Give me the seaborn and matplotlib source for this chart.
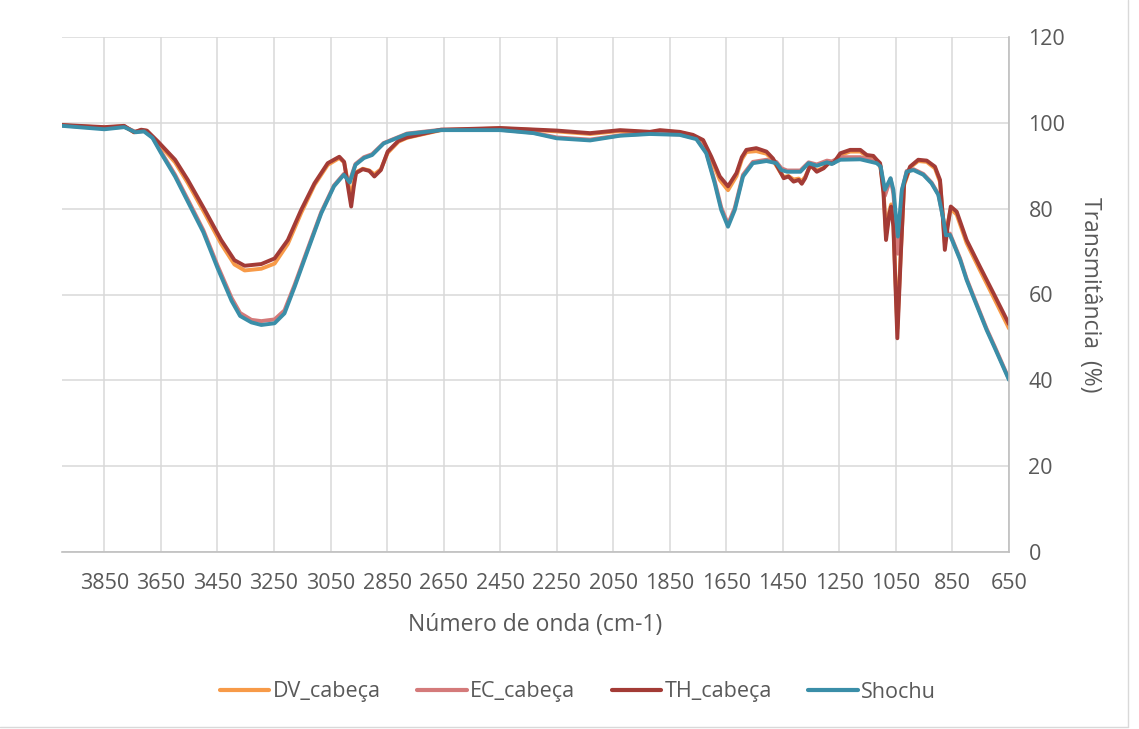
import numpy as np
import pandas as pd
import matplotlib
matplotlib.use("Agg")
import matplotlib.pyplot as plt
import seaborn as sns

# wavenumbers (cm-1) and transmittance (%)
wn_top = [4000, 3850, 3780, 3745, 3720, 3700, 3660, 3600, 3555, 3495, 3437, 3390, 3354, 3295, 3248,
          3201, 3154, 3107, 3060, 3019, 3002, 2988, 2977, 2968, 2960, 2936, 2913, 2895, 2872, 2848,
          2810, 2780, 2720, 2659, 2550, 2450, 2350, 2250, 2132, 2026, 1920, 1885, 1815, 1768, 1732,
          1703, 1673, 1644, 1614, 1595, 1579, 1544, 1508, 1485, 1459, 1447, 1430, 1412, 1394, 1383,
          1371, 1353, 1330, 1306, 1288, 1271, 1247, 1212, 1176, 1153, 1130, 1118, 1106, 1094, 1085,
          1073, 1067, 1059, 1045, 1033, 1021, 1000, 971, 941, 912, 894, 885, 877, 867, 856,
          835, 800, 753, 705, 650]

th_cabeca = [99.5, 99.0, 99.3, 97.8, 98.4, 98.2, 95.6, 91.4, 86.7, 79.7, 72.7, 68.0, 66.7, 67.1, 68.4,
             72.7, 79.7, 85.9, 90.6, 92.1, 90.9, 85.0, 80.5, 85.0, 88.3, 89.2, 88.8, 87.5, 89.0, 93.3,
             95.8, 96.6, 97.5, 98.4, 98.6, 98.8, 98.5, 98.2, 97.6, 98.3, 97.9, 98.3, 97.9, 97.2, 96.0,
             92.1, 87.5, 85.2, 88.3, 92.0, 93.7, 94.1, 93.3, 91.7, 88.6, 87.1, 87.5, 86.3, 86.7, 85.8,
             87.1, 90.2, 88.6, 89.4, 90.6, 90.6, 92.9, 93.7, 93.7, 92.5, 92.3, 91.4, 90.6, 83.6, 72.7,
             78.9, 80.5, 75.8, 49.8, 68.8, 85.9, 89.8, 91.4, 91.2, 89.8, 86.7, 78.9, 70.4, 75.8, 80.5,
             79.3, 72.7, 66.5, 60.3, 53.1]

dv_cabeca = [99.4, 98.9, 99.2, 97.8, 98.3, 98.1, 95.3, 90.8, 86.0, 78.9, 71.8, 67.0, 65.6, 66.0, 67.2,
             71.8, 79.0, 85.5, 90.2, 91.8, 90.8, 86.0, 83.0, 86.0, 88.5, 89.3, 88.9, 88.0, 89.2, 93.0,
             95.6, 96.5, 97.4, 98.3, 98.5, 98.7, 98.4, 98.0, 97.4, 98.1, 97.8, 98.1, 97.8, 97.0, 95.6,
             91.5, 86.7, 84.3, 87.6, 91.5, 93.2, 93.4, 92.8, 91.3, 88.5, 87.4, 87.6, 86.8, 87.0, 86.4,
             87.4, 90.0, 88.9, 89.5, 90.6, 90.6, 92.5, 93.3, 93.3, 92.2, 92.0, 91.2, 90.4, 84.5, 74.0,
             79.5, 81.0, 76.5, 52.0, 69.5, 85.5, 89.6, 91.1, 90.9, 89.4, 86.2, 79.0, 72.0, 76.5, 80.0,
             78.6, 72.0, 65.7, 59.4, 52.1]

wn_low = [4000, 3850, 3780, 3740, 3710, 3680, 3650, 3600, 3550, 3500, 3450, 3400, 3370, 3330, 3295,
          3248, 3213, 3177, 3130, 3083, 3038, 3003, 2982, 2962, 2932, 2903, 2862, 2780, 2659, 2450,
          2332, 2250, 2132, 2026, 1920, 1815, 1756, 1721, 1691, 1668, 1644, 1620, 1591, 1556, 1508,
          1473, 1455, 1435, 1388, 1359, 1330, 1294, 1277, 1247, 1176, 1118, 1104, 1089, 1069, 1059,
          1043, 1029, 1012, 988, 953, 924, 900, 882, 873, 859, 823, 800, 776, 729, 700,
          650]

shochu = [99.3, 98.5, 99.0, 97.8, 98.0, 96.5, 93.0, 87.5, 81.0, 74.5, 66.2, 58.5, 55.0, 53.5, 52.9,
          53.3, 55.6, 61.8, 70.4, 78.9, 85.2, 87.9, 86.1, 90.2, 91.8, 92.5, 95.2, 97.4, 98.3, 98.3,
          97.6, 96.4, 95.9, 97.0, 97.4, 97.2, 96.2, 92.9, 85.9, 79.7, 75.8, 79.7, 87.5, 90.6, 91.1,
          90.6, 89.0, 88.6, 88.6, 90.6, 90.0, 90.8, 90.4, 91.4, 91.5, 90.6, 89.8, 84.4, 87.1, 84.4,
          73.5, 84.4, 88.6, 89.0, 87.9, 85.9, 83.2, 77.4, 73.8, 73.9, 68.1, 63.4, 59.4, 51.7, 47.5,
          40.1]

ec_cabeca = [99.4, 98.7, 99.1, 97.9, 98.1, 96.7, 93.3, 87.9, 81.5, 75.0, 66.8, 59.2, 55.7, 54.1, 53.8,
             54.2, 56.3, 62.3, 70.8, 79.2, 85.4, 88.1, 86.5, 90.4, 92.0, 92.7, 95.3, 97.5, 98.4, 98.4,
             97.7, 96.6, 96.1, 97.1, 97.5, 97.3, 96.4, 93.2, 86.4, 80.3, 76.4, 80.2, 87.9, 90.9, 91.4,
             90.9, 89.4, 88.9, 88.9, 90.8, 90.3, 91.2, 91.0, 92.0, 92.0, 91.0, 89.9, 83.0, 87.0, 83.5,
             69.5, 84.0, 88.8, 89.2, 88.1, 86.1, 83.4, 77.6, 74.2, 74.2, 68.4, 63.7, 59.7, 52.0, 47.8,
             40.3]

names = ["DV_cabeça", "EC_cabeça", "TH_cabeça", "Shochu"]
colors = ["#F79A48", "#D47A7A", "#A33B36", "#3A8EA8"]

df = pd.concat([
    pd.DataFrame({"wn": wn_top, "T": dv_cabeca, "amostra": names[0]}),
    pd.DataFrame({"wn": wn_low, "T": ec_cabeca, "amostra": names[1]}),
    pd.DataFrame({"wn": wn_top, "T": th_cabeca, "amostra": names[2]}),
    pd.DataFrame({"wn": wn_low, "T": shochu, "amostra": names[3]}),
])

sns.set_style("white")
plt.rcParams["font.family"] = ["Open Sans", "DejaVu Sans"]
grey = "#595959"

fig = plt.figure(figsize=(11.39, 7.29), dpi=100)
ax = fig.add_axes([62 / 1139, 1 - 552 / 729, (1009 - 62) / 1139, (552 - 37) / 729])

sns.lineplot(data=df, x="wn", y="T", hue="amostra", palette=dict(zip(names, colors)),
             hue_order=names, linewidth=2.8, sort=False, estimator=None, ax=ax, legend=False)

ax.set_xlim(4000, 650)
ax.set_ylim(0, 120)
ax.set_xticks(np.arange(3850, 649, -200))
ax.set_yticks(np.arange(0, 121, 20))
ax.grid(True, color="#D9D9D9", linewidth=1.1)
ax.set_axisbelow(True)
ax.yaxis.tick_right()
ax.yaxis.set_label_position("right")
ax.tick_params(axis="both", length=0, labelsize=15.5, labelcolor=grey)
ax.tick_params(axis="x", pad=15)
ax.tick_params(axis="y", pad=14)
for side in ["left", "top"]:
    ax.spines[side].set_visible(False)
for side in ["bottom", "right"]:
    ax.spines[side].set_color("#BFBFBF")
    ax.spines[side].set_linewidth(1.2)

ax.set_xlabel("Número de onda (cm-1)", fontsize=16.5, color=grey, labelpad=14)
ax.set_ylabel("Transmitância  (%)", fontsize=16.5, color=grey, rotation=-90, labelpad=26)

handles = [plt.Line2D([], [], color=c, linewidth=3) for c in colors]
fig.legend(handles, names, loc="center", bbox_to_anchor=(578 / 1139, 1 - 692 / 729), ncol=4,
           frameon=False, fontsize=15.5, labelcolor=grey, handlelength=2.3, handletextpad=0.15,
           columnspacing=1.7)

# chart area border
fig.add_artist(plt.Line2D([1128 / 1139, 1128 / 1139], [2 / 729, 1], color="#D9D9D9", linewidth=1))
fig.add_artist(plt.Line2D([0, 1128 / 1139], [2 / 729, 2 / 729], color="#D9D9D9", linewidth=1))

fig.savefig("out.png", dpi=100)
